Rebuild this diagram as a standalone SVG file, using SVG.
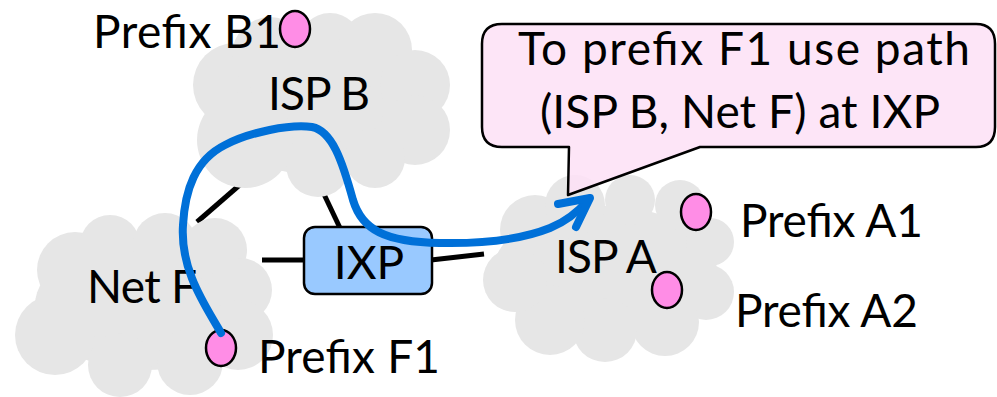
<svg xmlns="http://www.w3.org/2000/svg" width="997" height="397" viewBox="0 0 997 397">
<style>
.cloud{fill:#e6e6e6}
.link{stroke:#000;stroke-width:5;fill:none}
.dot{fill:#ff8de6;stroke:#000;stroke-width:2.5}
.t{font-family:Lato,"Liberation Sans",sans-serif;font-size:46px;fill:#000}
.path{stroke:#0070d8;stroke-width:8;fill:none;stroke-linecap:round;stroke-linejoin:round}
</style>
<rect width="997" height="397" fill="#fff"/>
<g id="links">
<line class="link" x1="197" y1="222" x2="250" y2="176"/>
<line class="link" x1="322" y1="190" x2="340" y2="228"/>
<line class="link" x1="262" y1="260" x2="304" y2="260"/>
<line class="link" x1="431" y1="260" x2="484" y2="254"/>
</g>
<g id="isp-b">
<g class="cloud">
<ellipse cx="320" cy="110" rx="110" ry="65"/>
<circle cx="235" cy="85" r="42"/>
<circle cx="270" cy="55" r="38"/>
<circle cx="330" cy="45" r="32"/>
<circle cx="375" cy="50" r="37"/>
<circle cx="415" cy="85" r="35"/>
<circle cx="415" cy="130" r="35"/>
<circle cx="375" cy="158" r="30"/>
<circle cx="318" cy="165" r="32"/>
<circle cx="245" cy="140" r="48"/>
</g>
<text class="t" x="268" y="110" textLength="102" lengthAdjust="spacing">ISP B</text>
</g>
<g id="net-f">
<g class="cloud">
<ellipse cx="145" cy="305" rx="110" ry="65"/>
<circle cx="75" cy="270" r="38"/>
<circle cx="110" cy="245" r="30"/>
<circle cx="165" cy="245" r="32"/>
<circle cx="215" cy="250" r="32"/>
<circle cx="240" cy="290" r="32"/>
<circle cx="238" cy="335" r="35"/>
<circle cx="190" cy="362" r="33"/>
<circle cx="120" cy="365" r="32"/>
<circle cx="55" cy="335" r="40"/>
</g>
<text class="t" x="87" y="303" textLength="110" lengthAdjust="spacing">Net F</text>
</g>
<g id="isp-a">
<g class="cloud">
<ellipse cx="605" cy="272" rx="112" ry="66"/>
<circle cx="535" cy="230" r="35"/>
<circle cx="575" cy="205" r="30"/>
<circle cx="630" cy="200" r="25"/>
<circle cx="680" cy="205" r="25"/>
<circle cx="710" cy="242" r="24"/>
<circle cx="706" cy="292" r="28"/>
<circle cx="665" cy="322" r="34"/>
<circle cx="605" cy="330" r="32"/>
<circle cx="550" cy="320" r="35"/>
<circle cx="515" cy="280" r="32"/>
</g>
<text class="t" x="555" y="273" textLength="102" lengthAdjust="spacing">ISP A</text>
</g>
<g id="ixp">
<rect x="304" y="227" width="128" height="67" rx="11" fill="#99c9ff" stroke="#000" stroke-width="2.5"/>
<text class="t" x="369" y="279" text-anchor="middle">IXP</text>
</g>
<g id="prefix-b1">
<ellipse class="dot" cx="295" cy="29" rx="15" ry="18"/>
<text class="t" x="93" y="48" textLength="188" lengthAdjust="spacing">Prefix B1</text>
</g>
<g id="prefix-f1">
<ellipse class="dot" cx="221" cy="348" rx="15" ry="18"/>
<text class="t" x="258" y="373" textLength="182" lengthAdjust="spacing">Prefix F1</text>
</g>
<g id="prefix-a1">
<ellipse class="dot" cx="696" cy="212" rx="15" ry="18"/>
<text class="t" x="740" y="237" textLength="183" lengthAdjust="spacing">Prefix A1</text>
</g>
<g id="prefix-a2">
<ellipse class="dot" cx="667" cy="290" rx="15" ry="18"/>
<text class="t" x="735" y="327" textLength="183" lengthAdjust="spacing">Prefix A2</text>
</g>
<g id="callout">
<path d="M502,24 H976 Q995,24 995,44 V127 Q995,147 976,147 H700 L568,195 L569,147 H502 Q482,147 482,127 V44 Q482,24 502,24 Z" fill="#fde0f6" fill-opacity="0.85" stroke="#000" stroke-width="2.5" stroke-linejoin="round"/>
<text class="t" x="518" y="65" textLength="452" lengthAdjust="spacing">To prefix F1 use path</text>
<text class="t" x="540" y="128" textLength="400" lengthAdjust="spacing">(ISP B, Net F) at IXP</text>
</g>
<g id="connectors">
<path class="path" d="M221,333 C205,305 180,270 183,225 C185,190 195,160 225,145 C250,132 290,124 312,127 C332,131 342,160 353,200 C362,230 385,242 440,243 C490,244 525,238 550,228 C565,222 578,212 589,199"/>
<path class="path" d="M558,204 L590,198 L576,227"/>
</g>
</svg>
